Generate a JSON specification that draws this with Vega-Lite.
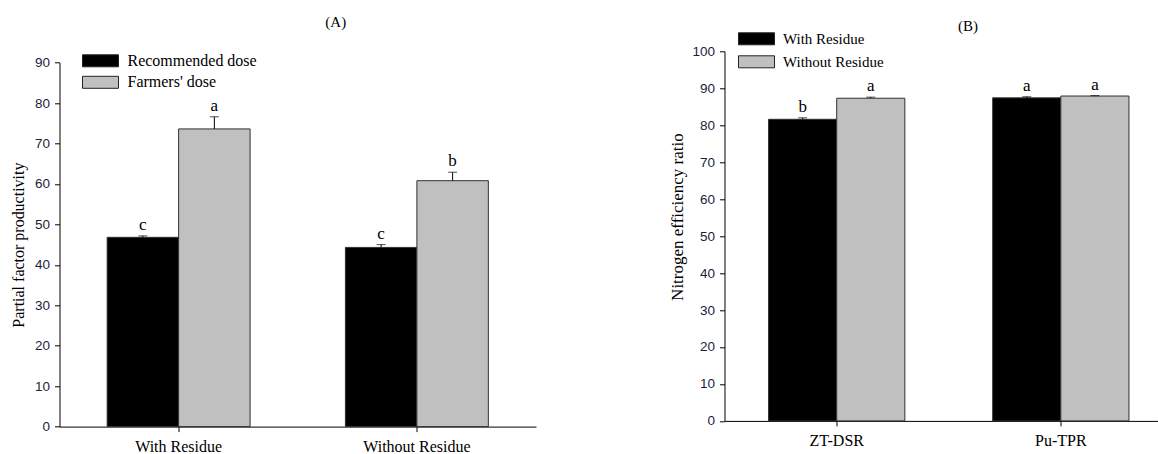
{
  "$schema": "https://vega.github.io/schema/vega-lite/v6.json",
  "padding": {"left": 9.5, "top": 15.3, "right": 0, "bottom": 0},
  "background": "white",
  "spacing": 132,
  "datasets": {
    "A": [
      {"group": "With Residue", "series": "Recommended dose", "value": 46.8, "hi": 47.15, "letter": "c"},
      {"group": "With Residue", "series": "Farmers' dose", "value": 73.6, "hi": 76.6, "letter": "a"},
      {"group": "Without Residue", "series": "Recommended dose", "value": 44.3, "hi": 45.0, "letter": "c"},
      {"group": "Without Residue", "series": "Farmers' dose", "value": 60.8, "hi": 62.9, "letter": "b"}
    ],
    "B": [
      {"system": "ZT-DSR", "series": "With Residue", "value": 81.6, "hi": 82.0, "letter": "b"},
      {"system": "ZT-DSR", "series": "Without Residue", "value": 87.3, "hi": 87.6, "letter": "a"},
      {"system": "Pu-TPR", "series": "With Residue", "value": 87.4, "hi": 87.7, "letter": "a"},
      {"system": "Pu-TPR", "series": "Without Residue", "value": 87.9, "hi": 88.0, "letter": "a"}
    ]
  },
  "hconcat": [
    {
      "width": 476.5,
      "height": 375.3,
      "data": {"name": "A"},
      "title": {"text": "(A)", "frame": "group", "anchor": "middle", "dx": 38, "offset": 21, "font": "Liberation Serif", "fontSize": 15, "fontWeight": "normal", "color": "black"},
      "encoding": {
        "x": {"field": "group", "type": "nominal", "sort": ["With Residue", "Without Residue"],
              "scale": {"domain": ["With Residue", "Without Residue"], "paddingInner": 0.4, "paddingOuter": 0.2},
              "axis": {"title": null, "labelAngle": 0, "labelFont": "Liberation Serif", "labelFontSize": 16, "labelColor": "black", "labelPadding": 7}},
        "xOffset": {"field": "series", "type": "nominal", "scale": {"domain": ["Recommended dose", "Farmers' dose"], "paddingInner": 0, "paddingOuter": 0}}
      },
      "layer": [
        {
          "mark": {"type": "bar", "stroke": "#303030", "strokeWidth": 1},
          "encoding": {
            "y": {"field": "value", "type": "quantitative", "scale": {"domain": [0, 90], "range": [375.3, 11.3]},
                  "axis": {"title": "Partial factor productivity", "values": [0, 10, 20, 30, 40, 50, 60, 70, 80, 90], "titlePadding": 8, "labelOverlap": false}},
            "color": {"field": "series", "type": "nominal",
                      "scale": {"domain": ["Recommended dose", "Farmers' dose"], "range": ["#000000", "#c0c0c0"]},
                      "legend": {"orient": "none", "legendX": 33, "legendY": 1.5, "title": null, "padding": 0,
                                 "symbolType": "M-3,-1H3V1H-3Z", "symbolSize": 144, "symbolStrokeColor": "#222222", "symbolStrokeWidth": 1,
                                 "labelFont": "Liberation Serif", "labelFontSize": 16, "labelColor": "black", "labelOffset": 19, "rowPadding": 5.5}}
          }
        },
        {
          "mark": {"type": "rule", "color": "black", "strokeWidth": 1},
          "encoding": {"y": {"field": "value", "type": "quantitative",
                             "axis": {"title": "Partial factor productivity", "values": [0, 10, 20, 30, 40, 50, 60, 70, 80, 90], "titlePadding": 8, "labelOverlap": false}},
                       "y2": {"field": "hi"}}
        },
        {
          "mark": {"type": "tick", "color": "black", "size": 9, "thickness": 1},
          "encoding": {"y": {"field": "hi", "type": "quantitative",
                             "axis": {"title": "Partial factor productivity", "values": [0, 10, 20, 30, 40, 50, 60, 70, 80, 90], "titlePadding": 8, "labelOverlap": false}}}
        },
        {
          "mark": {"type": "text", "baseline": "alphabetic", "dy": -6, "font": "Liberation Serif", "fontSize": 17, "color": "black"},
          "encoding": {"y": {"field": "hi", "type": "quantitative",
                             "axis": {"title": "Partial factor productivity", "values": [0, 10, 20, 30, 40, 50, 60, 70, 80, 90], "titlePadding": 8, "labelOverlap": false}},
                       "text": {"field": "letter"}}
        }
      ]
    },
    {
      "width": 433,
      "height": 369.6,
      "data": {"name": "B"},
      "title": {"text": "(B)", "frame": "group", "anchor": "middle", "dx": 27, "offset": -2.5, "font": "Liberation Serif", "fontSize": 15, "fontWeight": "normal", "color": "black"},
      "encoding": {
        "x": {"field": "system", "type": "nominal", "sort": ["ZT-DSR", "Pu-TPR"],
              "scale": {"domain": ["ZT-DSR", "Pu-TPR"], "paddingInner": 0.392, "paddingOuter": 0.162, "align": 0.607},
              "axis": {"title": null, "labelAngle": 0, "labelFont": "Liberation Serif", "labelFontSize": 16, "labelColor": "black", "labelPadding": 7}},
        "xOffset": {"field": "series", "type": "nominal", "scale": {"domain": ["With Residue", "Without Residue"], "paddingInner": 0, "paddingOuter": 0}}
      },
      "layer": [
        {
          "mark": {"type": "bar", "stroke": "#303030", "strokeWidth": 1},
          "encoding": {
            "y": {"field": "value", "type": "quantitative", "scale": {"domain": [0, 100]},
                  "axis": {"title": "Nitrogen efficiency ratio", "values": [0, 10, 20, 30, 40, 50, 60, 70, 80, 90, 100], "titlePadding": 5, "titleFontSize": 17, "titleY": 165.3, "labelOverlap": false}},
            "color": {"field": "series", "type": "nominal",
                      "scale": {"domain": ["With Residue", "Without Residue"], "range": ["#000000", "#c0c0c0"]},
                      "legend": {"orient": "none", "legendX": 24.5, "legendY": -20, "title": null, "padding": 0,
                                 "symbolType": "M-3,-1H3V1H-3Z", "symbolSize": 144, "symbolStrokeColor": "#222222", "symbolStrokeWidth": 1,
                                 "labelFont": "Liberation Serif", "labelFontSize": 15, "labelColor": "black", "labelOffset": 19, "rowPadding": 6}}
          }
        },
        {
          "mark": {"type": "rule", "color": "black", "strokeWidth": 1},
          "encoding": {"y": {"field": "value", "type": "quantitative",
                             "axis": {"title": "Nitrogen efficiency ratio", "values": [0, 10, 20, 30, 40, 50, 60, 70, 80, 90, 100], "titlePadding": 5, "titleFontSize": 17, "titleY": 165.3, "labelOverlap": false}},
                       "y2": {"field": "hi"}}
        },
        {
          "mark": {"type": "tick", "color": "black", "size": 9, "thickness": 1},
          "encoding": {"y": {"field": "hi", "type": "quantitative",
                             "axis": {"title": "Nitrogen efficiency ratio", "values": [0, 10, 20, 30, 40, 50, 60, 70, 80, 90, 100], "titlePadding": 5, "titleFontSize": 17, "titleY": 165.3, "labelOverlap": false}}}
        },
        {
          "mark": {"type": "text", "baseline": "alphabetic", "dy": -6, "font": "Liberation Serif", "fontSize": 17, "color": "black"},
          "encoding": {"y": {"field": "hi", "type": "quantitative",
                             "axis": {"title": "Nitrogen efficiency ratio", "values": [0, 10, 20, 30, 40, 50, 60, 70, 80, 90, 100], "titlePadding": 5, "titleFontSize": 17, "titleY": 165.3, "labelOverlap": false}},
                       "text": {"field": "letter"}}
        }
      ]
    }
  ],
  "resolve": {"scale": {"color": "independent", "xOffset": "independent"}},
  "config": {
    "view": {"stroke": null},
    "axis": {
      "grid": false,
      "domainColor": "black",
      "domainWidth": 1,
      "tickColor": "black",
      "tickWidth": 1,
      "tickSize": 5,
      "labelFont": "Liberation Sans",
      "labelFontSize": 13.5,
      "labelColor": "#1c1c3c",
      "labelPadding": 5,
      "titleFont": "Liberation Serif",
      "titleFontSize": 16,
      "titleFontWeight": "normal",
      "titleColor": "black"
    }
  }
}
